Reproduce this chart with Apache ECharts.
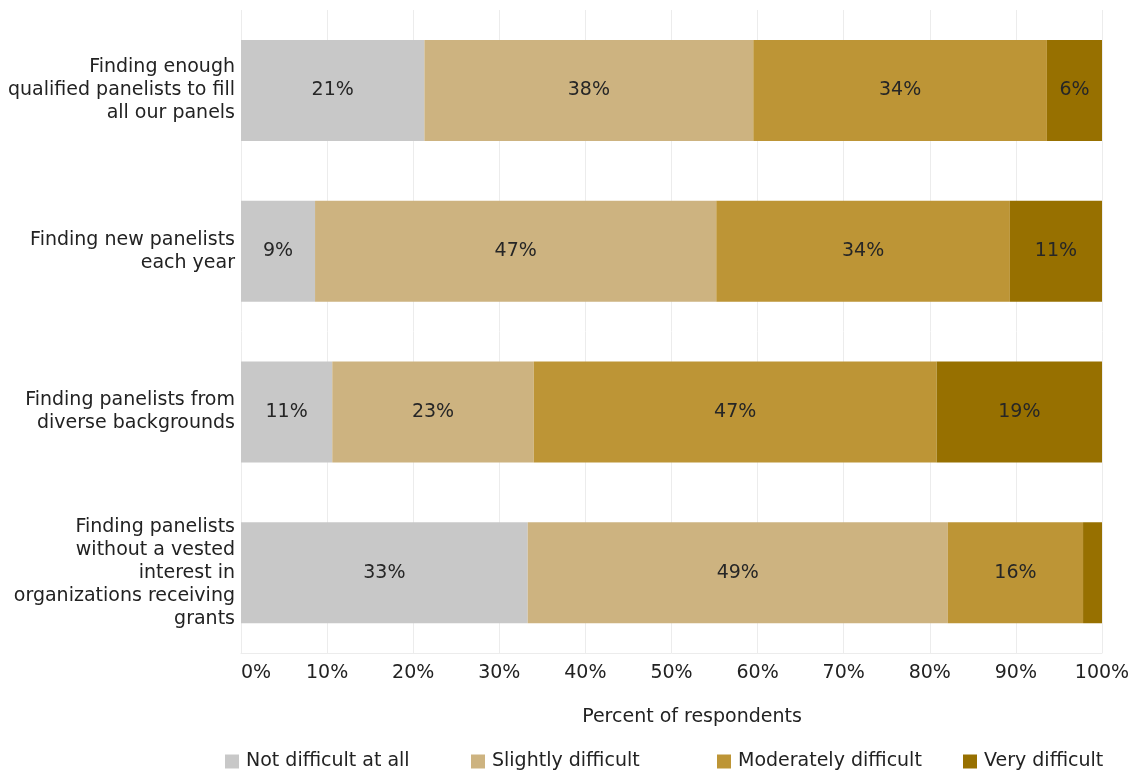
<!DOCTYPE html>
<html>
<head>
<meta charset="utf-8">
<title>Panelist difficulty</title>
<script src="https://cdn.jsdelivr.net/npm/echarts@6/dist/echarts.min.js"></script>
<style>
  html, body { margin: 0; padding: 0; background: #fff; }
  #chart { width: 1138px; height: 773px; }
</style>
</head>
<body>
<div id="chart"></div>
<script>
var categories = [
    "Finding enough\nqualified panelists to fill\nall our panels",
    "Finding new panelists\neach year",
    "Finding panelists from\ndiverse backgrounds",
    "Finding panelists\nwithout a vested\ninterest in\norganizations receiving\ngrants"
];
var seriesNames = ["Not difficult at all", "Slightly difficult", "Moderately difficult", "Very difficult"];
var notDifficult = [21.3, 8.6, 10.6, 33.3];
var slightly = [38.2, 46.6, 23.4, 48.8];
var moderately = [34.1, 34.1, 46.8, 15.7];
var very = [6.4, 10.7, 19.2, 2.2];
var xTicks = [0, 10, 20, 30, 40, 50, 60, 70, 80, 90, 100];

var colors = ["#c8c8c8", "#cdb380", "#bd9536", "#977000"];
var font = "DejaVu Sans";
var fsize = 19;

function makeSeries(name, data, i) {
    return {
        name: name,
        type: "bar",
        stack: "total",
        barWidth: 101,
        data: data,
        itemStyle: { color: colors[i] },
        label: {
            show: true,
            position: "inside",
            color: "#262626",
            fontFamily: font,
            fontSize: fsize,
            formatter: function(p) {
                return p.value < 3 ? "" : Math.round(p.value) + "%";
            }
        },
        emphasis: { disabled: true }
    };
}

// one legend per entry so the entries sit on an even 246px pitch
function makeLegend(name, i) {
    return {
        left: 220 + i * 246,
        top: 747,
        itemWidth: 14,
        itemHeight: 14,
        icon: "rect",
        data: [name],
        textStyle: { fontFamily: font, fontSize: fsize, color: "#222", padding: [0, 0, 0, 2] }
    };
}

var chart = echarts.init(document.getElementById("chart"));
var option = {
    animation: false,
    textStyle: { fontFamily: font },
    grid: { left: 241, right: 36, top: 10, bottom: 120 },
    legend: seriesNames.map(makeLegend),
    xAxis: {
        type: "value",
        min: xTicks[0],
        max: xTicks[xTicks.length - 1],
        interval: 10,
        name: "Percent of respondents",
        nameLocation: "middle",
        nameGap: 55,
        nameTextStyle: { fontFamily: font, fontSize: fsize, color: "#222", padding: [0, 0, 0, 41] },
        axisLine: { show: true, lineStyle: { color: "#ececec" } },
        axisTick: { show: false },
        splitLine: { show: true, lineStyle: { color: "#ececec" } },
        axisLabel: {
            fontFamily: font,
            fontSize: fsize,
            color: "#222",
            margin: 11,
            alignMinLabel: "left",
            formatter: "{value}%"
        }
    },
    yAxis: {
        type: "category",
        inverse: true,
        data: categories,
        axisLine: { show: false },
        axisTick: { show: false },
        splitLine: { show: false },
        axisLabel: {
            fontFamily: font,
            fontSize: fsize,
            color: "#222",
            lineHeight: 23,
            margin: 6,
            align: "right"
        }
    },
    series: [
        makeSeries(seriesNames[0], notDifficult, 0),
        makeSeries(seriesNames[1], slightly, 1),
        makeSeries(seriesNames[2], moderately, 2),
        makeSeries(seriesNames[3], very, 3)
    ]
};
chart.setOption(option);
</script>
</body>
</html>
